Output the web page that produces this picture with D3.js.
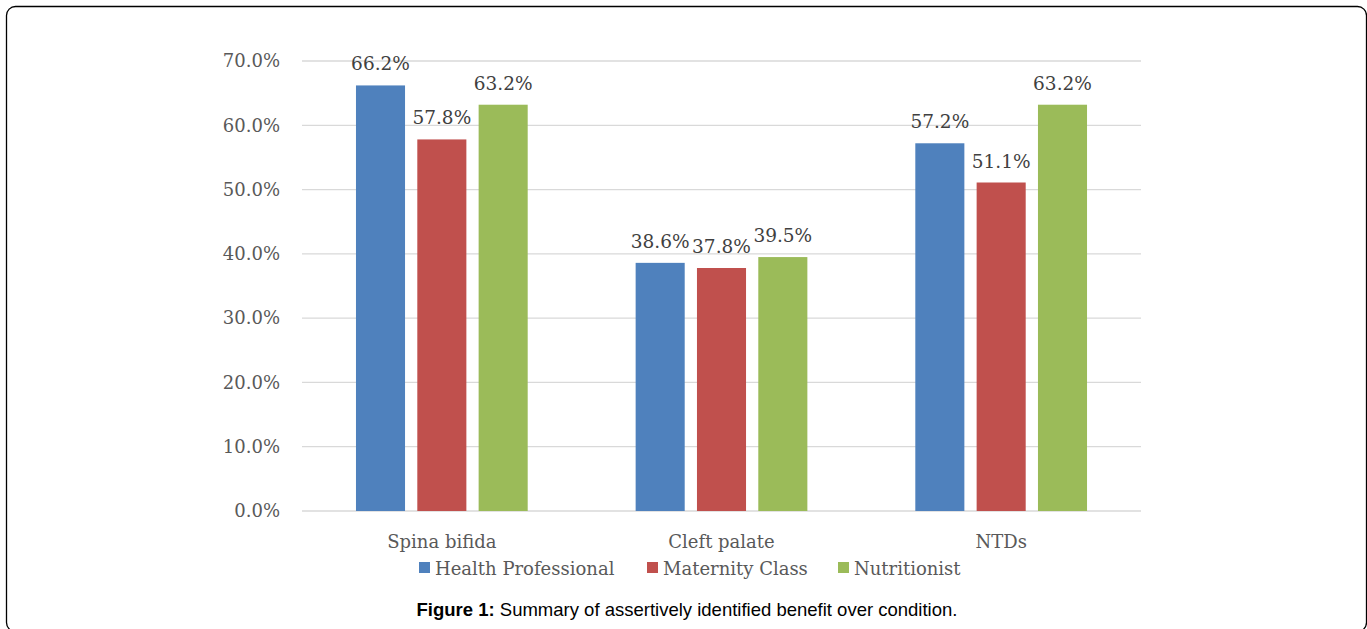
<!DOCTYPE html>
<html>
<head>
<meta charset="utf-8">
<script src="https://cdn.jsdelivr.net/npm/d3@7"></script>
<style>
  body { margin: 0; background: #fff; }
  svg { display: block; }
</style>
</head>
<body>
<div id="chart"></div>
<script>
// values
var categories = ["Spina bifida", "Cleft palate", "NTDs"];
var seriesNames = ["Health Professional", "Maternity Class", "Nutritionist"];
var healthProfessional = [66.2, 38.6, 57.2];
var maternityClass = [57.8, 37.8, 51.1];
var nutritionist = [63.2, 39.5, 63.2];
var yTicks = [0, 10, 20, 30, 40, 50, 60, 70];
var colors = ["#4F81BD", "#C0504D", "#9BBB59"];

var seriesValues = [healthProfessional, maternityClass, nutritionist];

var W = 1367, H = 629;
var margin = {top: 61, right: 226, bottom: 118, left: 302},
    width = W - margin.left - margin.right,
    height = H - margin.top - margin.bottom;

var serif = "'DejaVu Serif', serif";

var root = d3.select("#chart")
  .append("svg")
    .attr("width", W)
    .attr("height", H);

// frame round the figure
root.append("rect")
  .attr("x", 6.5).attr("y", 6.5)
  .attr("width", 1360).attr("height", 625)
  .attr("rx", 9).attr("ry", 9)
  .attr("fill", "none")
  .attr("stroke", "#000")
  .attr("stroke-width", 1.3);

var svg = root.append("g")
  .attr("transform", "translate(" + margin.left + "," + margin.top + ")");

var y = d3.scaleLinear()
  .domain([0, 70])
  .range([height, 0]);

var x0 = d3.scaleBand()
  .domain(categories)
  .range([0, width]);

var x1 = d3.scaleBand()
  .domain(seriesNames)
  .range([0, x0.bandwidth()])
  .paddingInner(0.2)
  .paddingOuter(0.88);

// gridlines
svg.append("g")
  .selectAll("line")
  .data(yTicks)
  .enter().append("line")
    .attr("x1", 0).attr("x2", width)
    .attr("y1", function(d) { return y(d); })
    .attr("y2", function(d) { return y(d); })
    .attr("stroke", "#D9D9D9")
    .attr("stroke-width", 1.3);

// Y axis labels
var yAxis = svg.append("g")
  .call(d3.axisLeft(y).tickValues(yTicks).tickSize(0).tickPadding(22)
    .tickFormat(function(d) { return d.toFixed(1) + "%"; }));
yAxis.select(".domain").remove();
yAxis.selectAll("text")
  .attr("fill", "#595959")
  .style("font-family", serif)
  .style("font-size", "18px");

// X axis labels
var xAxis = svg.append("g")
  .attr("transform", "translate(0," + height + ")")
  .call(d3.axisBottom(x0).tickSize(0).tickPadding(24));
xAxis.select(".domain").remove();
xAxis.selectAll("text")
  .attr("fill", "#595959")
  .style("font-family", serif)
  .style("font-size", "18px");

// bars
var groups = svg.selectAll("g.cat")
  .data(categories)
  .enter().append("g")
    .attr("class", "cat")
    .attr("transform", function(d) { return "translate(" + x0(d) + ",0)"; });

function rows(c, i) {
  return seriesNames.map(function(s, j) { return {s: s, v: seriesValues[j][i], j: j}; });
}

groups.selectAll("rect")
  .data(rows)
  .enter().append("rect")
    .attr("x", function(d) { return x1(d.s); })
    .attr("y", function(d) { return y(d.v); })
    .attr("width", x1.bandwidth())
    .attr("height", function(d) { return height - y(d.v); })
    .attr("fill", function(d) { return colors[d.j]; });

groups.selectAll("text")
  .data(rows)
  .enter().append("text")
    .attr("x", function(d) { return x1(d.s) + x1.bandwidth() / 2; })
    .attr("y", function(d) { return y(d.v) - 15; })
    .attr("text-anchor", "middle")
    .attr("fill", "#404040")
    .style("font-family", serif)
    .style("font-size", "18.5px")
    .text(function(d) { return d.v.toFixed(1) + "%"; });

// legend
var legendX = [419, 647, 838];
var legend = root.append("g");
seriesNames.forEach(function(s, i) {
  legend.append("rect")
    .attr("x", legendX[i]).attr("y", 562)
    .attr("width", 11).attr("height", 11)
    .attr("fill", colors[i]);
  legend.append("text")
    .attr("x", legendX[i] + 16).attr("y", 575)
    .attr("fill", "#595959")
    .style("font-family", serif)
    .style("font-size", "18px")
    .text(s);
});

// caption
var cap = root.append("text")
  .attr("x", 687).attr("y", 616)
  .attr("text-anchor", "middle")
  .style("font-family", "'Liberation Sans', Arial, sans-serif")
  .style("font-size", "18.5px")
  .attr("fill", "#000");
cap.append("tspan").attr("font-weight", "bold").text("Figure 1:");
cap.append("tspan").text(" Summary of assertively identified benefit over condition.");
</script>
</body>
</html>
